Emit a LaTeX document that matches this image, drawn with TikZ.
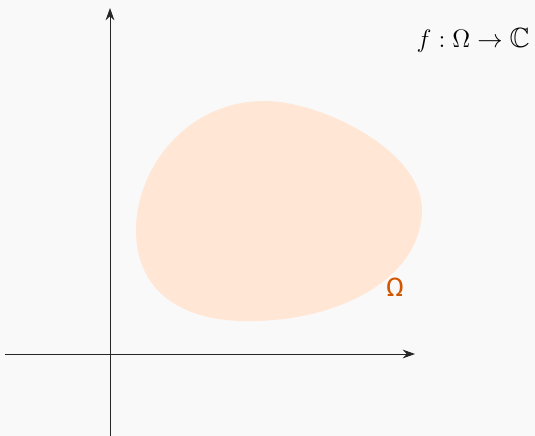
\documentclass[tikz,border=0pt]{standalone}
\usepackage{amsmath,amssymb}
\usepackage{fontspec}
\newfontfamily\labelfont{Fira Sans}
\usepackage{xcolor}
\usetikzlibrary{arrows.meta,positioning}

\definecolor{bgcol}{HTML}{F9F9F9}
\definecolor{domfill}{HTML}{FFE6D5}
\definecolor{domlabel}{HTML}{D45500}

\begin{document}
\begin{tikzpicture}[x=0.02cm, y=-0.02cm]
    % background and frame
    \fill[bgcol] (0,0) rectangle (535,436);
    \useasboundingbox (0,0) rectangle (535,436);

    % the domain
    \fill[domfill] (265,101) .. controls (320,101) and (422,150) .. (422,210)
        .. controls (421,278) and (340,321) .. (250,321)
        .. controls (180,322) and (136,290) .. (136,230)
        .. controls (136,170) and (185,101) .. (265,101) -- cycle;

    % axes
    \coordinate (xl) at (5,354);
    \coordinate (xr) at (415,354);
    \coordinate (yb) at (110,436);
    \coordinate (yt) at (110,8);
    \draw[-{Stealth[length=7pt,width=5pt]}, line width=0.55pt, black!85] (xl) -- (xr);
    \draw[-{Stealth[length=7pt,width=5pt]}, line width=0.55pt, black!85] (yb) -- (yt);

    % labels
    \node[text=domlabel, font=\labelfont\fontsize{15}{17}\selectfont] (omega) at (395,287) {Ω};
    \node[font=\fontsize{15.8}{18}\selectfont, anchor=east] (map) at (536,40) {$f:\Omega\to\mathbb{C}$};
\end{tikzpicture}
\end{document}
